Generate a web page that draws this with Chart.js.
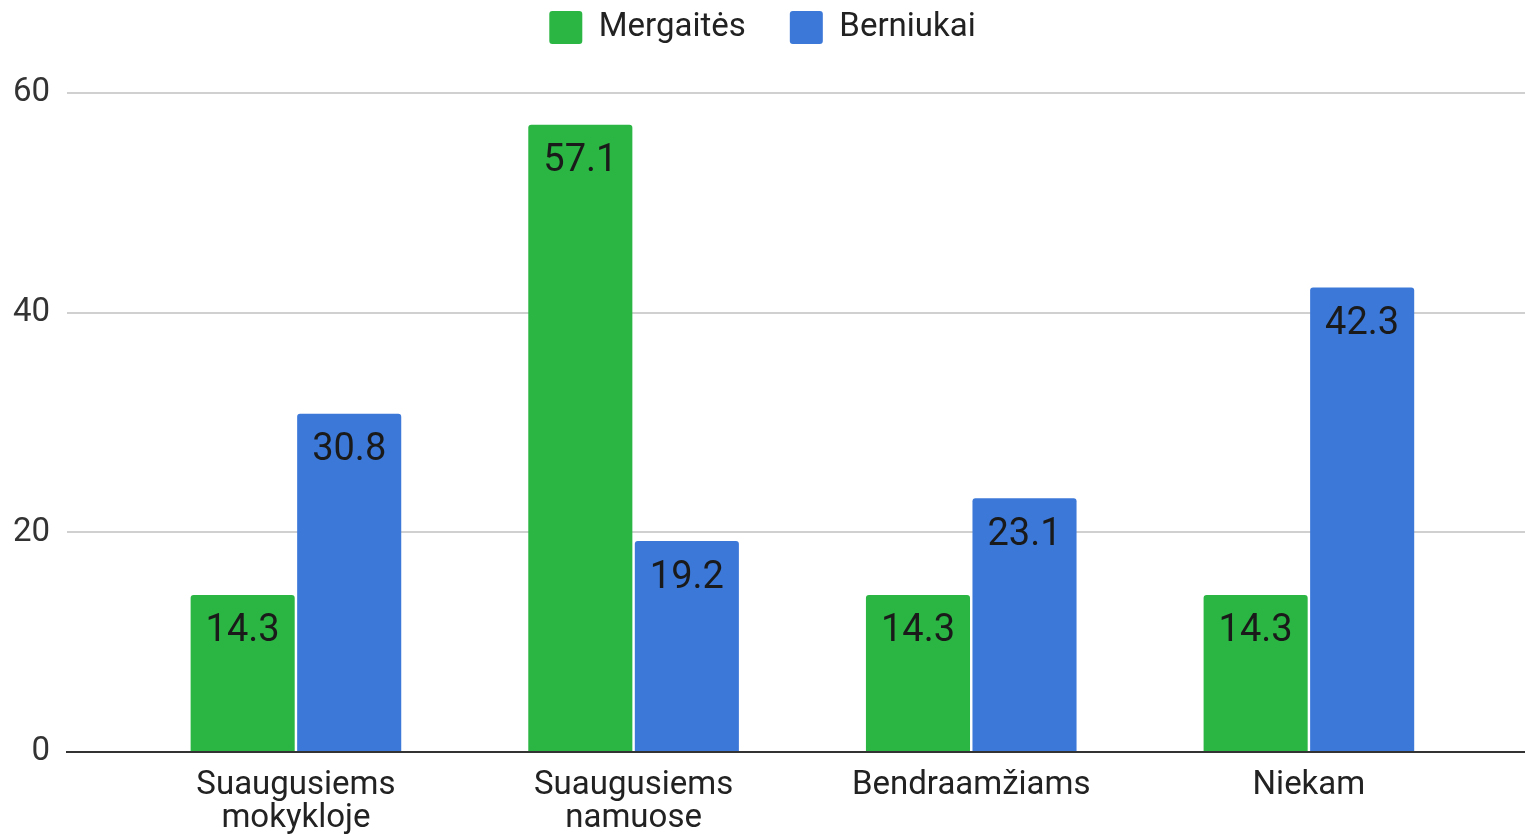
<!DOCTYPE html>
<html>
<head>
<meta charset="utf-8">
<script src="https://cdn.jsdelivr.net/npm/chart.js@4.4.0/dist/chart.umd.min.js"></script>
<style>
  body { margin: 0; background: #fff; }
  #wrap { width: 1525px; height: 834px; }
</style>
</head>
<body>
<div id="wrap"><canvas id="myChart"></canvas></div>
<script>
const categories = [['Suaugusiems', 'mokykloje'], ['Suaugusiems', 'namuose'], 'Bendraamžiams', 'Niekam'];
const mergaites = [14.3, 57.1, 14.3, 14.3];
const berniukai = [30.8, 19.2, 23.1, 42.3];
const yTicks = [0, 20, 40, 60];

// write the value inside the top of every bar
const barLabels = {
  id: 'barLabels',
  afterDatasetsDraw(chart) {
    const ctx = chart.ctx;
    ctx.save();
    ctx.font = '38px Roboto';
    ctx.fillStyle = '#1a1a1a';
    ctx.textAlign = 'center';
    ctx.textBaseline = 'middle';
    chart.data.datasets.forEach(function(ds, i) {
      chart.getDatasetMeta(i).data.forEach(function(bar, j) {
        ctx.fillText(ds.data[j].y.toFixed(1), bar.x, bar.y + 37);
      });
    });
    ctx.restore();
  }
};

new Chart("myChart", {
  type: "bar",
  data: {
    datasets: [{
      label: 'Mergaitės',
      data: mergaites.map((v, i) => ({x: i + 1, y: v})),
      backgroundColor: '#2bb644',
      borderRadius: {topLeft: 3, topRight: 3},
      borderSkipped: 'bottom'
    }, {
      label: 'Berniukai',
      data: berniukai.map((v, i) => ({x: i + 1, y: v})),
      backgroundColor: '#3c78d8',
      borderRadius: {topLeft: 3, topRight: 3},
      borderSkipped: 'bottom'
    }]
  },
  plugins: [barLabels],
  options: {
    responsive: true,
    maintainAspectRatio: false,
    animation: false,
    categoryPercentage: 0.631,
    barPercentage: 0.977,
    layout: {padding: {top: -33, right: 0, bottom: 0, left: 0}},
    plugins: {
      legend: {
        position: 'top',
        labels: {
          boxWidth: 33,
          boxHeight: 33,
          padding: 44,
          color: '#222',
          font: {family: 'Roboto', size: 33},
          useBorderRadius: true,
          borderRadius: 3
        }
      },
      // empty title below the legend, only used as a spacer
      title: {
        display: true,
        text: '',
        weight: 500,
        font: {size: 10, lineHeight: 1},
        padding: {top: 0, bottom: 29}
      },
      tooltip: {enabled: false}
    },
    scales: {
      x: {
        type: 'linear',
        min: 0.322,
        max: 4.64,
        offset: false,
        grid: {display: false, offset: false},
        border: {display: true, color: '#333', width: 2},
        afterBuildTicks: function(scale) {
          scale.ticks = categories.map((c, i) => ({value: i + 1}));
        },
        afterFit: function(scale) { scale.height = 82; },
        ticks: {
          autoSkip: false,
          maxRotation: 0,
          padding: 9,
          color: '#222',
          font: {family: 'Roboto', size: 33, lineHeight: 1},
          callback: function(value) { return categories[value - 1]; }
        }
      },
      y: {
        min: 0,
        max: 60,
        afterBuildTicks: function(scale) {
          scale.ticks = yTicks.map(v => ({value: v}));
        },
        afterFit: function(scale) { scale.width = 67; },
        border: {display: false},
        grid: {
          drawTicks: false,
          lineWidth: 2,
          color: ctx => ctx.tick.value === 0 ? '#333' : '#d0d0d0'
        },
        ticks: {
          padding: 17,
          color: '#333',
          font: {family: 'Roboto', size: 33}
        }
      }
    }
  }
});
</script>
</body>
</html>
